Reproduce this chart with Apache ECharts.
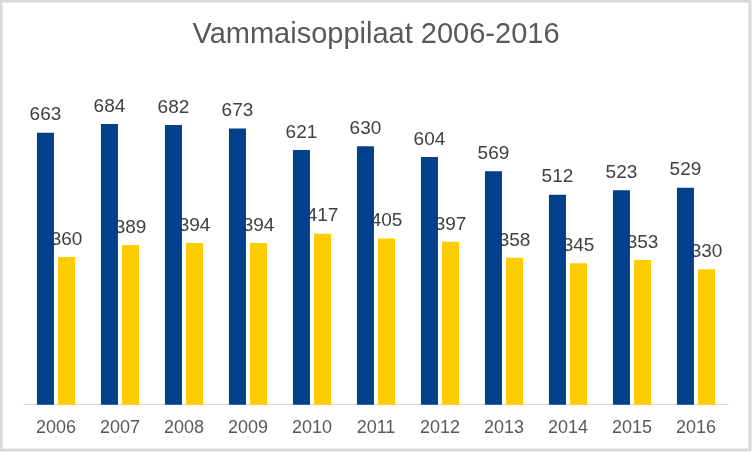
<!DOCTYPE html>
<html>
<head>
<meta charset="utf-8">
<script src="https://cdn.jsdelivr.net/npm/echarts@6/dist/echarts.min.js"></script>
<style>
html,body{margin:0;padding:0;background:#fff;}
#c{width:752px;height:452px;}
</style>
</head>
<body>
<div id="c"></div>
<script>
const title = 'Vammaisoppilaat 2006-2016';
const years = ['2006','2007','2008','2009','2010','2011','2012','2013','2014','2015','2016'];
const seriesA = [663,684,682,673,621,630,604,569,512,523,529];
const seriesB = [360,389,394,394,417,405,397,358,345,353,330];

const chart = echarts.init(document.getElementById('c'));
const font = 'Liberation Sans, Arial, sans-serif';
chart.setOption({
  animation: false,
  backgroundColor: '#fff',
  title: {
    text: title, left: 'center', top: 15,
    textStyle: {fontFamily: font, fontSize: 29, fontWeight: 'normal', color: '#595959'}
  },
  graphic: [{
    type: 'rect', silent: true, z: 100,
    shape: {x: 1, y: 1, width: 749, height: 449},
    style: {fill: 'none', stroke: '#d9d9d9', lineWidth: 3}
  }],
  grid: {left: 24, right: 24, top: 76.5, bottom: 47.3},
  xAxis: {
    type: 'category', data: years,
    axisLine: {lineStyle: {color: '#d9d9d9', width: 1}},
    axisTick: {show: false},
    axisLabel: {fontFamily: font, fontSize: 18, color: '#595959', margin: 14}
  },
  yAxis: {
    type: 'value', min: 0, max: 800, interval: 100,
    show: false, splitLine: {show: false}
  },
  series: [
    {
      type: 'bar', data: seriesA, barWidth: 17, barGap: '24%', z: 3,
      itemStyle: {color: '#033f8b'},
      label: {show: true, position: 'top', distance: 8, fontFamily: font, fontSize: 19, color: '#404040'}
    },
    {
      type: 'bar', data: seriesB, barWidth: 17, z: 2,
      itemStyle: {color: '#ffcc00'},
      label: {show: true, position: 'top', distance: 8, fontFamily: font, fontSize: 19, color: '#404040'}
    }
  ]
});
</script>
</body>
</html>
